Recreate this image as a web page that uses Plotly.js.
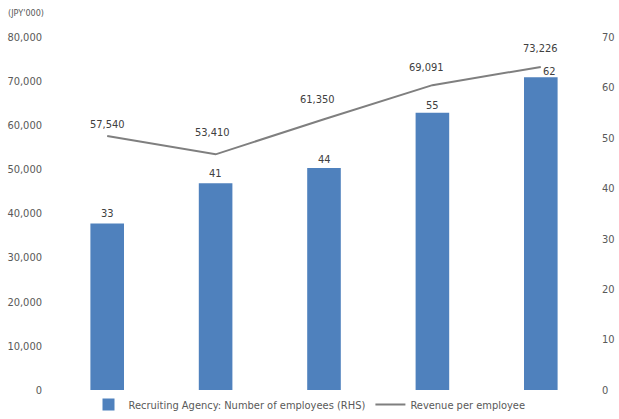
<!DOCTYPE html>
<html><head><meta charset="utf-8">
<script src="https://cdn.plot.ly/plotly-3.0.1.min.js"></script>
<style>body{margin:0;padding:0;background:#fff}#c{width:619px;height:419px}</style>
</head><body><div id="c"></div>
<script>
const categories = ['P1','P2','P3','P4','P5'];
const employees = [33, 41, 44, 55, 62];
const revenuePerEmployee = [57540, 53410, 61350, 69091, 73226];
const leftTicks = [0,10000,20000,30000,40000,50000,60000,70000,80000];
const rightTicks = [0,10,20,30,40,50,60,70];

const fam = 'DejaVu Sans Condensed, DejaVu Sans, sans-serif';
const font = {family:fam, size:11, color:'#595959'};
const labelFont = {family:fam, size:11, color:'#404040'};
const fmt = v => v.toLocaleString('en-US');

// label offsets (pixels) – styling only
const lineShiftY = [12, 22, 20, 18, 18];
const lineShiftX = [0, -3, -7, -6, 0];
const barShiftY = [10, 10, 9, 7, 6];
const barShiftX = [0, 0, 0, 0, 9];

const traces = [
  {type:'bar', x:categories, y:employees, yaxis:'y2', name:'Recruiting Agency: Number of employees (RHS)',
   marker:{color:'#4F81BD'}, hoverinfo:'skip'},
  {type:'scatter', mode:'lines', x:categories, y:revenuePerEmployee, yaxis:'y', name:'Revenue per employee',
   line:{color:'#7F7F7F', width:2}, hoverinfo:'skip'}
];
const annotations = [];
categories.forEach((c,i)=>{
  annotations.push({x:c, y:revenuePerEmployee[i], xref:'x', yref:'y', text:fmt(revenuePerEmployee[i]), showarrow:false,
    xanchor:'center', yanchor:'middle', yshift:lineShiftY[i], xshift:lineShiftX[i], font:labelFont});
  annotations.push({x:c, y:employees[i], xref:'x', yref:'y2', text:String(employees[i]), showarrow:false,
    xanchor:'center', yanchor:'middle', yshift:barShiftY[i], xshift:barShiftX[i], font:labelFont});
});
annotations.push({text:"(JPY'000)", xref:'paper', yref:'paper', x:0, y:1, xshift:-47, yshift:17, xanchor:'left', yanchor:'bottom', showarrow:false, font:{family:fam,size:9,color:'#595959'}});

const layout = {
  width:619, height:419, margin:{l:53, r:24, t:37, b:29},
  paper_bgcolor:'#fff', plot_bgcolor:'#fff', font:font, bargap:0.69,
  showlegend:true,
  legend:{orientation:'h', xref:'container', yref:'container', x:0.5, xanchor:'center', y:-0.015, yanchor:'bottom',
    font:{family:fam,size:11,color:'#595959'}, traceorder:'normal', itemwidth:30, tracegroupgap:0},
  xaxis:{showticklabels:false, showgrid:false, zeroline:false, showline:false, ticks:''},
  yaxis:{range:[0,80000], tickvals:leftTicks, ticktext:leftTicks.map(fmt), showgrid:false, zeroline:false, showline:false, ticks:'', ticklabelstandoff:10},
  yaxis2:{range:[0,70], tickvals:rightTicks, overlaying:'y', side:'right', showgrid:false, zeroline:false, showline:false, ticks:'', ticklabelstandoff:6},
  annotations:annotations
};
Plotly.newPlot('c', traces, layout, {displayModeBar:false, staticPlot:true});
</script></body></html>
